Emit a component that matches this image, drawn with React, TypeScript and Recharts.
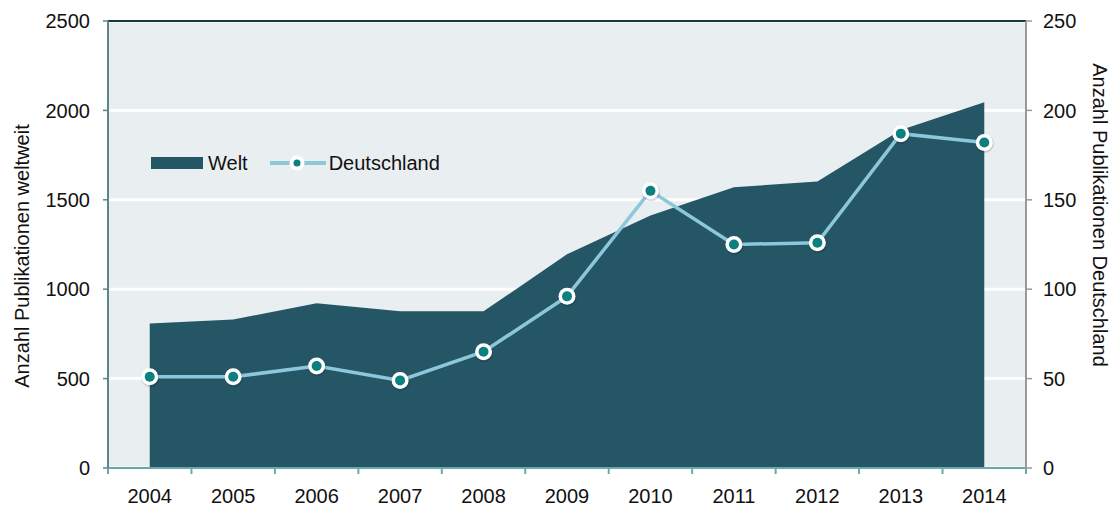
import {
  ComposedChart,
  Area,
  Line,
  XAxis,
  YAxis,
  CartesianGrid,
  ReferenceLine,
  Legend,
} from 'recharts'

const years = ['2004', '2005', '2006', '2007', '2008', '2009', '2010', '2011', '2012', '2013', '2014']
const welt = [808, 830, 922, 876, 876, 1195, 1412, 1570, 1603, 1890, 2045]
const deutschland = [51, 51, 57, 49, 65, 96, 155, 125, 126, 187, 182]
const leftTicks = [0, 500, 1000, 1500, 2000, 2500]
const rightTicks = [0, 50, 100, 150, 200, 250]

const FONT = '"Liberation Sans", Arial, Helvetica, sans-serif'
const AREA_COLOR = '#255665'
const LINE_COLOR = '#8cc7dc'
const DOT_COLOR = '#0c7f80'
const PLOT_BOTTOM = 468
const HALF_BAND = 41.73

const data = years.map((year, i) => ({
  year,
  welt: welt[i],
  deutschland: deutschland[i],
}))

function XTick(props: any) {
  const { x, payload, index } = props
  const last = index === years.length - 1
  return (
    <g>
      <line x1={x - HALF_BAND} x2={x - HALF_BAND} y1={PLOT_BOTTOM} y2={PLOT_BOTTOM + 6} stroke="#6da7ae" strokeWidth={2} />
      {last && (
        <line x1={x + HALF_BAND} x2={x + HALF_BAND} y1={PLOT_BOTTOM} y2={PLOT_BOTTOM + 6} stroke="#6da7ae" strokeWidth={2} />
      )}
      <text x={x} y={503} textAnchor="middle" fontSize={20} fill="#111" fontFamily={FONT}>
        {payload.value}
      </text>
    </g>
  )
}

function Dot(props: any) {
  const { cx, cy, index } = props
  if (cx == null || cy == null) return null
  return (
    <g key={`dot-${index}`}>
      <circle cx={cx + 0.6} cy={cy + 1.2} r={9.2} fill="rgba(0,0,0,0.13)" />
      <circle cx={cx} cy={cy} r={8.5} fill="#fff" />
      <circle cx={cx} cy={cy} r={5} fill={DOT_COLOR} />
    </g>
  )
}

function LegendContent() {
  return (
    <div style={{ display: 'flex', alignItems: 'center', fontFamily: FONT, fontSize: 20, color: '#111', height: 30 }}>
      <svg width={52} height={12} style={{ display: 'block' }}>
        <rect x={0} y={0} width={52} height={12} fill={AREA_COLOR} />
      </svg>
      <span style={{ marginLeft: 5 }}>Welt</span>
      <svg width={56} height={20} style={{ display: 'block', marginLeft: 22 }}>
        <line x1={0} x2={56} y1={10} y2={10} stroke={LINE_COLOR} strokeWidth={4} />
        <circle cx={27} cy={10} r={7.5} fill="#fff" />
        <circle cx={27} cy={10} r={3.5} fill={DOT_COLOR} />
      </svg>
      <span style={{ marginLeft: 3 }}>Deutschland</span>
    </div>
  )
}

export default function App() {
  return (
    <div style={{ position: 'absolute', left: 0, top: 0, width: 1118, height: 506, background: '#fff' }}>
      <ComposedChart
        width={1118}
        height={506}
        data={data}
        margin={{ top: 21, right: 0, bottom: 0, left: 0 }}
      >
        <CartesianGrid fill="#e9eef1" stroke="#ffffff" strokeWidth={3} vertical={false} yAxisId="left" />
        <XAxis
          dataKey="year"
          height={38}
          padding={{ left: HALF_BAND, right: HALF_BAND }}
          axisLine={{ stroke: '#6da7ae', strokeWidth: 2 }}
          tickLine={false}
          tick={<XTick />}
          interval={0}
        />
        <YAxis
          yAxisId="left"
          width={108}
          domain={[0, 2500]}
          ticks={leftTicks}
          axisLine={{ stroke: '#5b878c', strokeWidth: 2 }}
          tickLine={{ stroke: '#5b878c', strokeWidth: 1.5 }}
          tickSize={5}
          tickMargin={13}
          tick={{ fill: '#111', fontSize: 20, fontFamily: FONT }}
          label={() => (
            <text
              x={22}
              y={256}
              transform="rotate(-90 22 256)"
              textAnchor="middle"
              dominantBaseline="central"
              fontSize={20}
              fill="#111"
              fontFamily={FONT}
            >
              Anzahl Publikationen weltweit
            </text>
          )}
        />
        <YAxis
          yAxisId="right"
          orientation="right"
          width={92}
          domain={[0, 250]}
          ticks={rightTicks}
          axisLine={{ stroke: '#9a9a9a', strokeWidth: 2 }}
          tickLine={{ stroke: '#9a9a9a', strokeWidth: 1.5 }}
          tickSize={6}
          tickMargin={11}
          tick={{ fill: '#111', fontSize: 20, fontFamily: FONT }}
          label={() => (
            <text
              x={1100}
              y={215}
              transform="rotate(90 1100 215)"
              textAnchor="middle"
              dominantBaseline="central"
              fontSize={20}
              fill="#111"
              fontFamily={FONT}
            >
              Anzahl Publikationen Deutschland
            </text>
          )}
        />
        <Area
          yAxisId="left"
          type="linear"
          dataKey="welt"
          name="Welt"
          fill={AREA_COLOR}
          fillOpacity={1}
          stroke="none"
          isAnimationActive={false}
        />
        <Line
          yAxisId="right"
          type="linear"
          dataKey="deutschland"
          name="Deutschland"
          stroke={LINE_COLOR}
          strokeWidth={3.5}
          dot={<Dot />}
          activeDot={false}
          isAnimationActive={false}
        />
        <ReferenceLine yAxisId="left" y={2500} stroke="#1b3a40" strokeWidth={2} />
        <Legend
          layout="horizontal"
          verticalAlign="middle"
          align="center"
          content={<LegendContent />}
          wrapperStyle={{ left: 151, top: 148, width: 'auto', height: 30 }}
        />
      </ComposedChart>
    </div>
  )
}
